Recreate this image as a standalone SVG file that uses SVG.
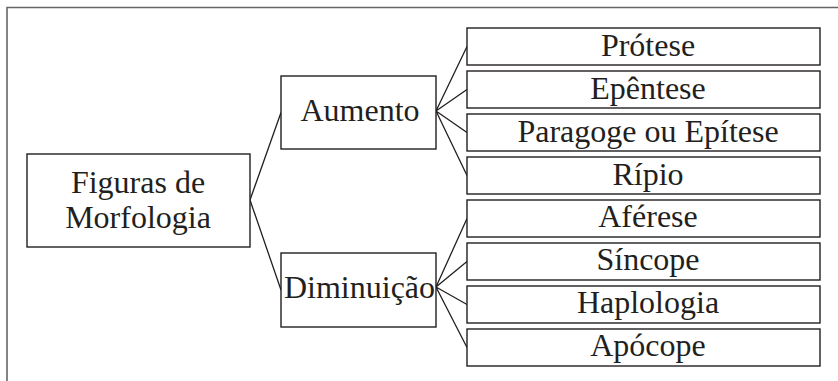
<svg xmlns="http://www.w3.org/2000/svg" width="838" height="381" viewBox="0 0 838 381">
<style>
.box{fill:#fff;stroke:#231f20;stroke-width:1.4}
.t{font-family:'Liberation Serif','Times New Roman',serif;font-size:32px;fill:#231f20;text-anchor:middle}
.c{fill:none;stroke:#231f20;stroke-width:1.3}
</style>
<rect width="838" height="381" fill="#fff"/>
<path d="M7 381 V7.5 H838" fill="none" stroke="#666" stroke-width="1.6"/>
<g id="connectors">
<path class="c" d="M250 200 L281 112.5 M250 200 L281 290"/>
<path class="c" d="M436 111 L467 46.5 M436 111 L467 89.5 M436 111 L467 132.5 M436 111 L467 175.5"/>
<path class="c" d="M436 287 L467 218.5 M436 287 L467 261.5 M436 287 L467 304.5 M436 287 L467 347.5"/>
</g>
<g id="figuras"><rect class="box" x="27" y="154" width="223" height="93"/><text class="t" x="138" y="193">Figuras de</text><text class="t" x="138" y="228">Morfologia</text></g>
<g id="aumento"><rect class="box" x="281" y="76" width="155" height="73"/><text class="t" x="360" y="121">Aumento</text></g>
<g id="diminuicao"><rect class="box" x="281" y="253" width="155" height="74"/><text class="t" x="359.5" y="298">Diminuição</text></g>
<g id="protese"><rect class="box" x="467" y="28" width="353" height="37"/><text class="t" x="648" y="56">Prótese</text></g>
<g id="epentese"><rect class="box" x="467" y="71" width="353" height="37"/><text class="t" x="648" y="99">Epêntese</text></g>
<g id="paragoge"><rect class="box" x="467" y="114" width="353" height="37"/><text class="t" x="648" y="142">Paragoge ou Epítese</text></g>
<g id="ripio"><rect class="box" x="467" y="157" width="353" height="37"/><text class="t" x="648" y="185">Rípio</text></g>
<g id="aferese"><rect class="box" x="467" y="200" width="353" height="37"/><text class="t" x="648" y="227">Aférese</text></g>
<g id="sincope"><rect class="box" x="467" y="243" width="353" height="37"/><text class="t" x="648" y="270">Síncope</text></g>
<g id="haplologia"><rect class="box" x="467" y="286" width="353" height="37"/><text class="t" x="648" y="313">Haplologia</text></g>
<g id="apocope"><rect class="box" x="467" y="329" width="353" height="37"/><text class="t" x="648" y="356">Apócope</text></g>
</svg>
